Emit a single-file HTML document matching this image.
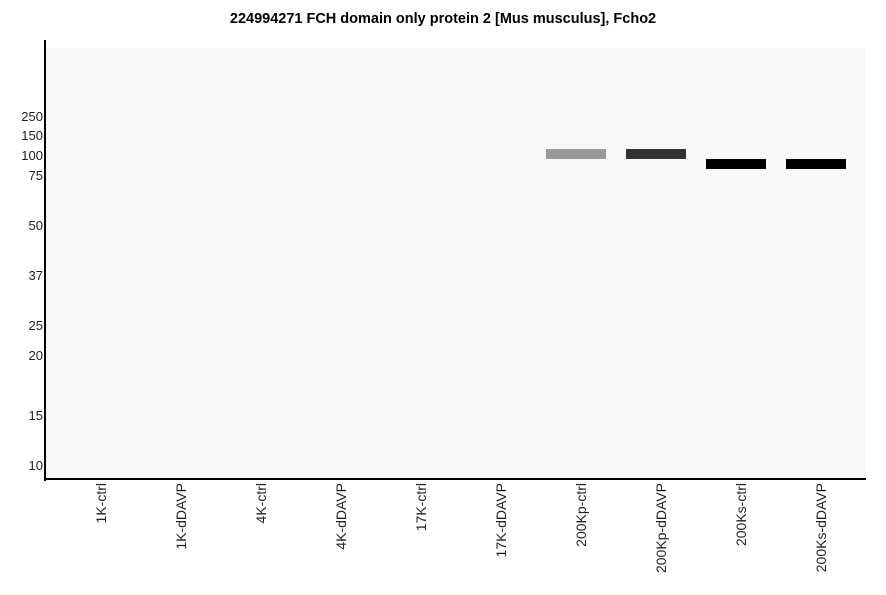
<!DOCTYPE html>
<html><head><style>
body{margin:0;background:#fff;width:886px;height:595px;position:relative;overflow:hidden;font-family:"Liberation Sans",sans-serif}
.t{position:absolute;left:0;width:886px;top:11px;text-align:center;font-weight:bold;font-size:14.5px}
.y{position:absolute;right:843px;font-size:13px;color:#222;line-height:14px}
.x{position:absolute;top:483px;font-size:14px;color:#222;white-space:nowrap;writing-mode:vertical-rl;transform:rotate(180deg);line-height:14px}
.b{position:absolute;height:10px;width:60px}
</style></head><body>
<div class="t">224994271 FCH domain only protein 2 [Mus musculus], Fcho2</div>
<div style="position:absolute;left:46px;top:48px;width:819px;height:431px;background:#f8f8f8"></div>
<div style="position:absolute;left:44px;top:40px;width:2px;height:441px;background:#000"></div>
<div style="position:absolute;left:44px;top:478px;width:822px;height:2px;background:#000"></div>
<div class="y" style="top:110px">250</div>
<div class="y" style="top:129px">150</div>
<div class="y" style="top:149px">100</div>
<div class="y" style="top:169px">75</div>
<div class="y" style="top:219px">50</div>
<div class="y" style="top:269px">37</div>
<div class="y" style="top:319px">25</div>
<div class="y" style="top:349px">20</div>
<div class="y" style="top:409px">15</div>
<div class="y" style="top:459px">10</div>
<div class="b" style="left:546px;top:149px;background:#999"></div>
<div class="b" style="left:626px;top:149px;background:#333"></div>
<div class="b" style="left:706px;top:159px;background:#000"></div>
<div class="b" style="left:786px;top:159px;background:#000"></div>
<div class="x" style="left:94px">1K-ctrl</div>
<div class="x" style="left:174px">1K-dDAVP</div>
<div class="x" style="left:254px">4K-ctrl</div>
<div class="x" style="left:334px">4K-dDAVP</div>
<div class="x" style="left:414px">17K-ctrl</div>
<div class="x" style="left:494px">17K-dDAVP</div>
<div class="x" style="left:574px">200Kp-ctrl</div>
<div class="x" style="left:654px">200Kp-dDAVP</div>
<div class="x" style="left:734px">200Ks-ctrl</div>
<div class="x" style="left:814px">200Ks-dDAVP</div>
</body></html>
